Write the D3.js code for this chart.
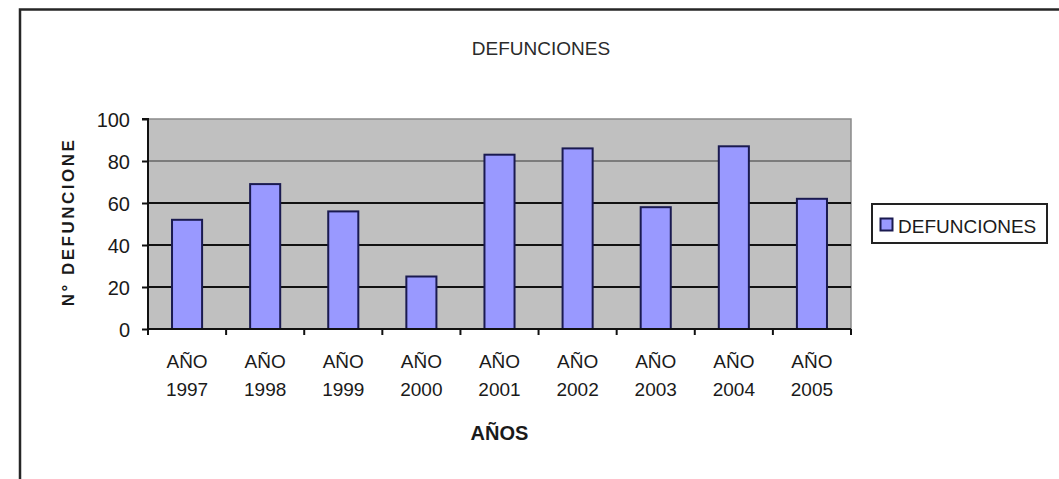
<!DOCTYPE html>
<html><head><meta charset="utf-8">
<script src="https://cdn.jsdelivr.net/npm/d3@7"></script>
<style>
html,body{margin:0;padding:0;background:#fff;}
svg{display:block;font-family:"Liberation Sans",Arial,sans-serif;}
</style></head>
<body>
<svg id="chart" width="1059" height="479"></svg>
<script>
const categories = ["1997","1998","1999","2000","2001","2002","2003","2004","2005"];
const categoryPrefix = "AÑO";
const values = [52, 69, 56, 25, 83, 86, 58, 87, 62];
const yTicks = [0, 20, 40, 60, 80, 100];
const chartTitle = "DEFUNCIONES";
const seriesName = "DEFUNCIONES";
const xTitle = "AÑOS";
const yTitle = "N° DEFUNCIONE";

const svg = d3.select("#chart");
const plot = {left:148, right:851, top:119, bottom:329};

const x = d3.scaleBand().domain(categories).range([plot.left, plot.right])
  .paddingInner(0.615).paddingOuter(0.3075);
const y = d3.scaleLinear().domain([0,100]).range([plot.bottom, plot.top]);

// outer frame (partially visible)
svg.append("path").attr("d", `M20,479 L20,9.5 L1059,9.5`)
  .attr("fill","none").attr("stroke","#262626").attr("stroke-width",2.5);

// plot background
svg.append("rect").attr("x",plot.left).attr("y",plot.top)
  .attr("width",plot.right-plot.left).attr("height",plot.bottom-plot.top)
  .attr("fill","#c0c0c0").attr("stroke","#8a8a8a").attr("stroke-width",1.5);

// gridlines
svg.append("g").selectAll("line").data(yTicks.filter(d=>d>0 && d<100)).join("line")
  .attr("x1",plot.left).attr("x2",plot.right)
  .attr("y1",d=>y(d)).attr("y2",d=>y(d))
  .attr("stroke",d=>d===80?"#7c7c7c":"#111")
  .attr("stroke-width",2);

// bars
svg.append("g").selectAll("rect").data(values).join("rect")
  .attr("x",(d,i)=>x(categories[i]))
  .attr("y",d=>y(d))
  .attr("width",x.bandwidth())
  .attr("height",d=>plot.bottom-y(d))
  .attr("fill","#9999ff").attr("stroke","#1a1a50").attr("stroke-width",2);

// y axis
const yAxis = d3.axisLeft(y).tickValues(yTicks).tickSize(6).tickPadding(12);
const gy = svg.append("g").attr("transform",`translate(${plot.left},0)`).call(yAxis);
gy.select(".domain").attr("stroke","#111").attr("stroke-width",2).attr("d",`M-6,${plot.top}H0V${plot.bottom}`);
gy.selectAll(".tick line").attr("stroke","#111").attr("stroke-width",2);
gy.selectAll(".tick text").attr("font-size",20).attr("fill","#1a1a1a")
  .attr("font-family","'Liberation Sans',Arial,sans-serif").attr("dy","0.35em");

// x axis
const step = x.step();
const boundaries = d3.range(categories.length+1).map(i=>plot.left + i*step);
const gx = svg.append("g");
gx.append("line").attr("x1",plot.left).attr("x2",plot.right)
  .attr("y1",plot.bottom).attr("y2",plot.bottom).attr("stroke","#111").attr("stroke-width",2);
gx.selectAll("line.tk").data(boundaries).join("line").attr("class","tk")
  .attr("x1",d=>d).attr("x2",d=>d).attr("y1",plot.bottom).attr("y2",plot.bottom+6)
  .attr("stroke","#111").attr("stroke-width",2);
const labels = gx.selectAll("text.lbl").data(categories).join("text").attr("class","lbl")
  .attr("x",d=>x(d)+x.bandwidth()/2).attr("text-anchor","middle")
  .attr("font-size",19).attr("fill","#1a1a1a");
labels.append("tspan").attr("x",d=>x(d)+x.bandwidth()/2).attr("y",368).text(categoryPrefix);
labels.append("tspan").attr("x",d=>x(d)+x.bandwidth()/2).attr("y",396).text(d=>d);

// titles
svg.append("text").attr("x",541).attr("y",55).attr("text-anchor","middle")
  .attr("font-size",19).attr("fill","#2a2a2a").text(chartTitle);
svg.append("text").attr("x",(plot.left+plot.right)/2).attr("y",440).attr("text-anchor","middle")
  .attr("font-size",20).attr("font-weight","bold").attr("fill","#1a1a1a").text(xTitle);
svg.append("text").attr("transform",`translate(74,222) rotate(-90)`).attr("text-anchor","middle")
  .attr("font-size",17).attr("font-weight","bold").attr("fill","#1a1a1a").attr("letter-spacing",2.5).text(yTitle);

// legend
const lg = svg.append("g");
lg.append("rect").attr("x",872).attr("y",204).attr("width",175).attr("height",39)
  .attr("fill","#fff").attr("stroke","#222").attr("stroke-width",2);
lg.append("rect").attr("x",880.5).attr("y",218.5).attr("width",12).attr("height",12)
  .attr("fill","#9999ff").attr("stroke","#1a1a50").attr("stroke-width",2);
lg.append("text").attr("x",898).attr("y",233).attr("font-size",19).attr("fill","#1a1a1a")
  .text(seriesName);
</script>
</body></html>
